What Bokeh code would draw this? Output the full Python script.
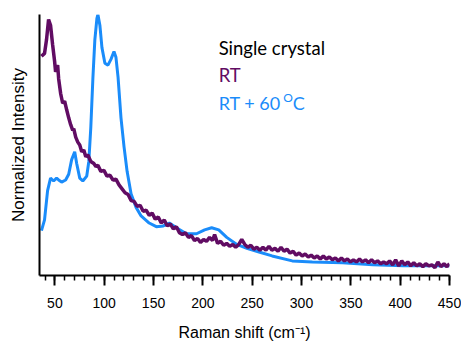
from bokeh.plotting import figure
from bokeh.models import Range1d, FixedTicker, Label
from bokeh.embed import file_html
from bokeh.resources import INLINE

# ---- data ----
rt60_shift = [36.4, 39.5, 42.6, 45.6, 48.7, 51.7, 53.8, 56.8, 60.9, 64.0, 67.0, 70.1, 72.1,
              75.2, 78.3, 82.3, 84.4, 86.4, 88.5, 90.5, 92.6, 93.6, 95.6, 97.7, 100.7, 103.8,
              106.8, 109.9, 111.9, 114.0, 117.0, 120.1, 123.2, 127.2, 132.3, 137.4, 145.6,
              152.8, 159.9, 166.0, 173.2, 183.4, 193.6, 201.8, 208.9, 216.1, 224.2, 234.4,
              244.6, 256.9, 270.2, 290.6, 311.0, 341.6, 372.3, 402.9, 450.0]
rt60_int = [0.172, 0.213, 0.325, 0.373, 0.362, 0.373, 0.366, 0.358, 0.366, 0.388, 0.444, 0.474,
            0.429, 0.373, 0.362, 0.381, 0.437, 0.567, 0.754, 0.903, 0.985, 1.000, 0.959, 0.873,
            0.813, 0.806, 0.828, 0.858, 0.836, 0.761, 0.604, 0.493, 0.399, 0.313, 0.261, 0.228,
            0.201, 0.187, 0.190, 0.201, 0.183, 0.160, 0.160, 0.175, 0.183, 0.175, 0.146, 0.119,
            0.104, 0.090, 0.075, 0.056, 0.052, 0.049, 0.041, 0.037, 0.037]

rt_shift = [36.4, 39.5, 41.5, 43.6, 45.6, 47.7, 49.7, 50.7, 52.8, 53.8, 55.8, 57.9, 59.9, 62.0,
            64.0, 66.0, 68.1, 69.1, 71.1, 73.2, 75.2, 77.2, 79.3, 81.3, 83.3, 86.4, 89.5, 91.5,
            93.6, 96.6, 99.7, 102.8, 105.8, 108.9, 111.9, 115.0, 118.1, 121.1, 124.2, 127.2,
            130.3, 133.4, 136.4, 139.5, 142.5, 145.6, 148.6, 151.7, 154.8, 157.8, 160.9, 163.9,
            167.0, 170.0, 173.2, 176.2, 179.3, 182.3, 185.4, 188.4, 191.5, 194.6, 197.6, 200.7,
            203.7, 206.8, 209.8, 211.9, 214.9, 218.0, 221.1, 224.1, 227.2, 230.3, 233.3, 236.4,
            239.4, 242.5, 245.6, 248.6, 251.7, 254.7, 257.8, 260.9, 263.9, 267.0, 270.0, 273.1,
            276.2, 279.2, 282.3, 285.3, 288.4, 291.5, 294.5, 297.6, 300.7, 303.7, 306.8, 309.8,
            312.9, 315.9, 319.0, 322.1, 325.1, 328.2, 331.2, 334.3, 337.4, 340.4, 343.5, 346.5,
            349.6, 352.6, 355.7, 358.8, 361.8, 364.9, 367.9, 371.0, 374.0, 377.1, 380.2, 383.2,
            386.3, 389.3, 392.4, 395.4, 398.5, 401.6, 404.6, 407.7, 410.7, 413.8, 416.8, 419.9,
            423.0, 426.0, 429.1, 432.1, 435.2, 438.2, 441.3, 444.4, 447.4, 450.0]
rt_int = [0.840, 0.851, 0.903, 0.981, 0.959, 0.884, 0.821, 0.780, 0.806, 0.754, 0.698, 0.660,
          0.668, 0.634, 0.604, 0.578, 0.556, 0.563, 0.530, 0.511, 0.500, 0.474, 0.481, 0.455,
          0.463, 0.437, 0.429, 0.418, 0.422, 0.399, 0.403, 0.381, 0.384, 0.366, 0.369, 0.347,
          0.332, 0.317, 0.310, 0.287, 0.284, 0.265, 0.269, 0.246, 0.250, 0.231, 0.239, 0.216,
          0.224, 0.201, 0.213, 0.190, 0.198, 0.179, 0.187, 0.164, 0.157, 0.164, 0.146, 0.153,
          0.134, 0.142, 0.127, 0.138, 0.131, 0.146, 0.134, 0.157, 0.123, 0.131, 0.116, 0.123,
          0.112, 0.119, 0.108, 0.119, 0.138, 0.119, 0.108, 0.116, 0.101, 0.108, 0.097, 0.108,
          0.097, 0.112, 0.097, 0.104, 0.093, 0.108, 0.093, 0.101, 0.086, 0.093, 0.078, 0.086,
          0.075, 0.082, 0.071, 0.078, 0.067, 0.075, 0.063, 0.075, 0.063, 0.071, 0.060, 0.067,
          0.056, 0.067, 0.056, 0.063, 0.052, 0.060, 0.052, 0.063, 0.052, 0.060, 0.049, 0.060,
          0.049, 0.056, 0.045, 0.052, 0.045, 0.056, 0.041, 0.060, 0.037, 0.056, 0.041, 0.052,
          0.037, 0.049, 0.037, 0.045, 0.034, 0.045, 0.037, 0.041, 0.030, 0.052, 0.034, 0.045,
          0.034, 0.045]

x_major_ticks = [50, 100, 150, 200, 250, 300, 350, 400, 450]
x_minor_ticks = list(range(40, 451, 10))

PURPLE = "#610C63"
BLUE = "#1A8CFA"

p = figure(width=461, height=343, output_backend="svg", toolbar_location=None,
           x_range=Range1d(34.4, 450), y_range=Range1d(0, 1.0),
           min_border_left=39, min_border_right=12, min_border_top=14, min_border_bottom=61)
p.background_fill_color = "white"
p.border_fill_color = "white"
p.outline_line_color = None
p.grid.visible = False

p.line(rt60_shift, rt60_int, line_color=BLUE, line_width=3)
p.line(rt_shift, rt_int, line_color=PURPLE, line_width=3.5)

xa = p.xaxis[0]
xa.ticker = FixedTicker(ticks=x_major_ticks, minor_ticks=x_minor_ticks)
xa.axis_label = "Raman shift (cm⁻¹)"
xa.axis_label_text_font = "Liberation Sans"
xa.axis_label_text_font_size = "16px"
xa.axis_label_text_font_style = "normal"
xa.axis_label_text_color = "black"
xa.axis_label_standoff = 13
xa.major_label_text_font = "Liberation Sans"
xa.major_label_text_font_size = "14px"
xa.major_label_text_color = "black"
xa.major_label_standoff = 12
xa.axis_line_width = 2
xa.axis_line_color = "black"
xa.major_tick_line_width = 2
xa.major_tick_out = 10
xa.major_tick_in = 0
xa.minor_tick_line_width = 1.5
xa.minor_tick_out = 5
xa.minor_tick_in = 0

ya = p.yaxis[0]
ya.ticker = FixedTicker(ticks=[])
ya.axis_label = "Normalized Intensity"
ya.axis_label_text_font = "Liberation Sans"
ya.axis_label_text_font_size = "17px"
ya.axis_label_text_font_style = "normal"
ya.axis_label_text_color = "black"
ya.axis_label_standoff = 12
ya.axis_line_width = 2
ya.axis_line_color = "black"
ya.major_tick_line_color = None
ya.minor_tick_line_color = None
ya.major_label_text_font_size = "0px"

font = "Lato"
p.add_layout(Label(x=216.0, y=0.872, text="Single crystal", text_font=font,
                   text_font_size="18.5px", text_color="black", text_baseline="alphabetic"))
p.add_layout(Label(x=216.0, y=0.768, text="RT", text_font=font,
                   text_font_size="18.5px", text_color=PURPLE, text_baseline="alphabetic"))
p.add_layout(Label(x=216.0, y=0.662, text="RT + 60", text_font=font,
                   text_font_size="18px", text_color=BLUE, text_baseline="alphabetic"))
p.add_layout(Label(x=281.5, y=0.681, text="O", text_font=font,
                   text_font_size="12px", text_color=BLUE, text_baseline="alphabetic"))
p.add_layout(Label(x=291.0, y=0.662, text="C", text_font=font,
                   text_font_size="18px", text_color=BLUE, text_baseline="alphabetic"))

open("out.html", "w").write(file_html(p, INLINE))
